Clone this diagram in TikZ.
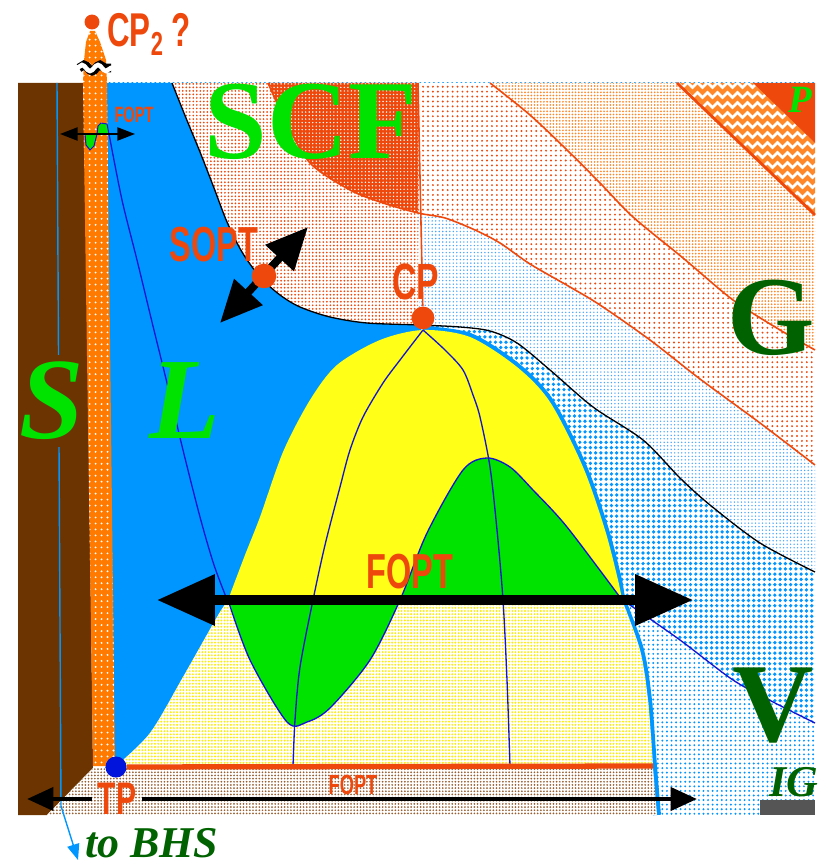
\documentclass[tikz,border=0pt]{standalone}
\usepackage{fontspec}
\setmainfont{Liberation Serif}
\newfontfamily\condfont[FakeStretch=0.66]{Liberation Sans}
\usepackage{tikz}
\usetikzlibrary{arrows.meta,patterns.meta,decorations.pathmorphing}

\definecolor{fopt}{RGB}{238,72,12}
\definecolor{soil}{RGB}{108,52,0}
\definecolor{column}{RGB}{255,122,0}
\definecolor{liquid}{RGB}{0,150,255}
\definecolor{dome}{RGB}{255,255,24}
\definecolor{blob}{RGB}{0,226,0}
\definecolor{deepgreen}{RGB}{0,98,0}
\definecolor{spin}{RGB}{20,20,210}
\definecolor{tpblue}{RGB}{0,20,220}
\definecolor{amber}{RGB}{255,135,40}
\definecolor{mud}{RGB}{150,95,50}
\definecolor{mist}{RGB}{70,165,255}
\definecolor{sun}{RGB}{255,235,0}
\definecolor{bar}{RGB}{85,85,85}

\begin{document}
\begin{tikzpicture}[x=0.02cm,y=-0.02cm,
  vapzone/.style={fill=white, postaction={pattern={Dots[distance=2.6pt,radius=0.62pt]}, pattern color=liquid}},
  bandzone/.style={fill=white, postaction={pattern={Dots[distance=3pt,radius=1.05pt]}, pattern color=liquid}},
  mistzone/.style={fill=white, postaction={pattern={Dots[distance=2pt,radius=0.45pt]}, pattern color=mist}},
  gaszone/.style={fill=white, postaction={pattern={Dots[distance=2.8pt,radius=0.6pt]}, pattern color=fopt}},
  scfzone/.style={fill=white, postaction={pattern={Dots[distance=2pt,radius=0.55pt]}, pattern color=fopt}},
  hotzone/.style={fill=fopt, postaction={pattern={Dots[distance=2pt,radius=0.45pt]}, pattern color=white}},
  ambzone/.style={fill=white, postaction={pattern={Dots[distance=1.8pt,radius=0.55pt]}, pattern color=amber}},
  palezone/.style={fill=white, postaction={pattern={Dots[distance=1.8pt,radius=0.6pt]}, pattern color=sun}},
  floorzone/.style={fill=white, postaction={pattern={Dots[distance=1.8pt,radius=0.55pt]}, pattern color=mud}},
  colzone/.style={fill=column, postaction={pattern={Dots[distance=3.4pt,radius=0.6pt]}, pattern color=white}},
  ripple/.style={amber, line width=2.3pt, decorate, decoration={zigzag, segment length=0.2cm, amplitude=0.05cm}},
  edge/.style={fopt, line width=0.9pt},
  spinline/.style={draw=spin, line width=0.75pt},
  spot/.style={circle, fill=fopt, inner sep=0pt, minimum size=13pt},
  tag/.style={text=fopt, inner sep=0pt, font=\condfont\bfseries\fontsize{#1}{#1}\selectfont},
  phase/.style={text=blob, inner sep=0pt, font=\bfseries\fontsize{#1}{#1}\selectfont},
  phaseit/.style={text=blob, inner sep=0pt, font=\bfseries\itshape\fontsize{#1}{#1}\selectfont},
  bigarrow/.style={line width=5.5pt, arrows={Triangle[length=33pt,width=28pt]-Triangle[length=33pt,width=28pt]}},
  soptarrow/.style={line width=4.5pt, arrows={Triangle[length=24pt,width=21pt]-Triangle[length=24pt,width=21pt]}},
  floorarrow/.style={line width=2.6pt, arrows={-Triangle[length=15pt,width=13pt]}},
  thinarrow/.style={line width=0.9pt, arrows={Triangle[length=10pt,width=7.5pt]-Triangle[length=10pt,width=7.5pt]}}]
\useasboundingbox (0,0) rectangle (817,864);

% background zones
\fill[soil] (18,83) -- (84,83) -- (93,768) -- (47,815) -- (18,815) -- cycle;
\fill[vapzone] (105,83) rectangle (815,815);
\fill[bandzone] (420,325) -- plot[smooth] coordinates {(420,325) (460,327) (490,331) (517,343) (550,370) (593,407) (643,440) (680,478) (710,505) (760,543) (815,572)} -- (815,723) -- plot[smooth] coordinates {(815,723) (775,703) (733,680) (680,640) (627,603)} -- (600,600) -- (520,420) -- (430,335) -- cycle;
\fill[mistzone] (418,213) -- plot[smooth] coordinates {(418,213) (445,218) (475,230) (500,243) (530,264) (570,287) (600,305) (650,340) (700,379) (760,423) (815,465)} -- (815,572) -- plot[smooth] coordinates {(815,572) (760,543) (710,505) (680,478) (643,440) (593,407) (550,370) (517,343) (490,331) (460,327) (420,325)} -- cycle;
\fill[gaszone] (418,83) -- (490,83) -- plot[smooth] coordinates {(490,83) (530,115) (567,150) (600,183) (633,217) (683,258) (733,300) (780,330) (815,350)} -- (815,465) -- plot[smooth] coordinates {(815,465) (760,423) (700,379) (650,340) (600,305) (570,287) (530,264) (500,243) (475,230) (445,218) (418,213)} -- cycle;
\fill[ambzone] (490,83) -- (677,83) -- (815,215) -- (815,350) -- plot[smooth] coordinates {(815,350) (780,330) (733,300) (683,258) (633,217) (600,183) (567,150) (530,115) (490,83)} -- cycle;
\begin{scope}
  \clip (677,83) -- (753,83) -- (815,143) -- (815,215) -- cycle;
  \fill[white] (670,80) rectangle (820,220);
  \foreach \r in {80,90,...,230}
    \draw[ripple] (665,\r) -- (825,\r);
\end{scope}
\fill[fopt] (753,83) -- (815,83) -- (815,143) -- cycle;
\fill[scfzone] (172,83) -- (418,83) -- (418,325) -- plot[smooth] coordinates {(420,325) (367,323) (330,317) (300,307) (280,295) (260,277) (242,252) (227,222) (214,188) (200,152) (186,118) (172,83)} -- cycle;
\fill[hotzone] (268,83) -- (418,83) -- (418,213) -- plot[smooth] coordinates {(418,213) (383,203) (350,190) (310,163) (285,120) (268,83)} -- cycle;
\fill[liquid] (105,83) -- plot[smooth] coordinates {(172,83) (186,118) (200,152) (214,188) (227,222) (242,252) (260,277) (280,295) (300,307) (330,317) (367,323) (420,325)} -- (420,360) -- (330,766) -- (112,766) -- cycle;

% coexistence dome
\draw[liquid, line width=4.5pt] plot[smooth] coordinates {(423,330) (470,337) (517,367) (550,402) (583,467) (605,530) (618,580) (622,600) (640,650) (648,700) (653,766) (657,815)};
\fill[palezone] (228,600) -- plot[smooth] coordinates {(622,600) (640,650) (648,700) (653,766)} -- (116,766) -- plot[smooth] coordinates {(116,766) (150,733) (183,677) (217,617) (228,600)} -- cycle;
\fill[dome] plot[smooth] coordinates {(228,600) (245,555) (260,517) (283,452) (310,400) (337,365) (380,340) (423,330) (470,337) (517,367) (550,402) (583,467) (605,530) (618,580) (622,600)} -- cycle;
\filldraw[spinline, fill=blob] plot[smooth] coordinates {(228,600) (250,660) (287,722) (307,722) (330,708) (370,660) (400,600) (427,533) (463,470) (487,458) (510,467) (533,490) (567,527) (622,600)} -- cycle;

% floor and column
\fill[floorzone] (93,768) -- (653,768) -- (657,815) -- (47,815) -- cycle;
\fill[colzone] (83,83) -- (84,60) -- (86,42) -- (90,31) -- (95,31) -- (100,42) -- (106,60) -- (107,83) -- (115,766) -- (93,766) -- cycle;
\draw[black, line width=5pt, decorate, decoration={snake, segment length=0.32cm, amplitude=0.06cm}] (79,68) -- (111,68);
\draw[white, line width=2.6pt, decorate, decoration={snake, segment length=0.32cm, amplitude=0.06cm}] (77,68) -- (113,68);

% zone borders
\draw[edge] plot[smooth] coordinates {(268,83) (285,120) (310,163) (350,190) (383,203) (418,213) (445,218) (475,230) (500,243) (530,264) (570,287) (600,305) (650,340) (700,379) (760,423) (815,465)};
\draw[edge] plot[smooth] coordinates {(490,83) (530,115) (567,150) (600,183) (633,217) (683,258) (733,300) (780,330) (815,350)};
\draw[edge, line width=1.6pt] (677,83) -- (815,215);
\draw[black, line width=0.75pt] plot[smooth] coordinates {(172,83) (186,118) (200,152) (214,188) (227,222) (242,252) (260,277) (280,295) (300,307) (330,317) (367,323) (420,325) (460,327) (490,331) (517,343) (550,370) (593,407) (643,440) (680,478) (710,505) (760,543) (815,572)};

% spinodals
\coordinate (cpfoot) at (423,330);
\draw[spinline] plot[smooth] coordinates {(109,134) (122,200) (137,260) (152,322) (167,383) (183,450) (200,517) (214,565) (228,602)};
\draw[spinline] (cpfoot) -- plot[smooth] coordinates {(423,330) (400,360) (383,383) (363,417) (350,450) (340,487) (325,545) (313,600) (300,667) (295,720) (293,766)};
\draw[spinline] (cpfoot) -- plot[smooth] coordinates {(423,330) (445,350) (463,370) (473,395) (480,417) (490,467) (497,530) (503,600) (507,680) (510,766)};
\draw[spinline] plot[smooth] coordinates {(627,603) (680,640) (733,680) (775,703) (815,723)};
\filldraw[spinline, fill=blob, line width=0.6pt] (85,134) -- (86,145) -- (90,150) -- (94,146) -- (97,134) -- cycle;
\filldraw[spinline, fill=blob, line width=0.6pt] (97,134) -- (98,126) -- (101,123) -- (107,124) -- (109,134) -- cycle;

% to BHS line
\coordinate (bhsTop) at (57,83);
\coordinate (bhsBend) at (61,806);
\coordinate (bhsEnd) at (78,860);
\draw[liquid, line width=0.8pt, arrows={-Triangle[length=9pt,width=7pt]}] (bhsTop) -- (bhsBend) -- (bhsEnd);

% points
\node[spot] (cpdot) at (423,318) {};
\node[spot, minimum size=8.5pt] (cp2dot) at (92,22) {};
\node[spot, fill=tpblue, minimum size=12pt] (tpdot) at (116,767) {};
\coordinate (floorEnd) at (653,766);
\draw[fopt, line width=3pt] (tpdot) -- (floorEnd);
\draw[edge] (418,83) -- (cpdot);

% arrows
\coordinate (foptL) at (157,600);
\coordinate (foptR) at (693,600);
\draw[bigarrow] (foptL) -- (foptR);
\coordinate (soptL) at (220,323);
\coordinate (soptR) at (308,227);
\draw[soptarrow] (soptL) -- (soptR);
\node[spot, minimum size=14pt] (soptdot) at (264,276) {};
\coordinate (smallL) at (60,134);
\coordinate (smallR) at (135,134);
\draw[thinarrow] (smallL) -- (smallR);
\node[tag=26, inner xsep=3pt] (tp) at (117,799) {TP};
\coordinate (floorL) at (27,799);
\coordinate (floorR) at (697,799);
\draw[floorarrow] (tp.west) -- (floorL);
\draw[floorarrow] (tp.east) -- (floorR);
\fill[bar] (760,800) rectangle (815,815);

% labels
\node[tag=27, anchor=base west] (cp2) at (107,47) {CP\textsubscript{2}\,?};
\node[tag=28] (sopt) at (214,245) {SOPT};
\node[tag=29] (cp) at (416,282) {CP};
\node[tag=28] (fopt) at (410,572) {FOPT};
\node[tag=12.6] (foptS) at (134,115) {FOPT};
\node[tag=15.8] (foptF) at (353,785) {FOPT};
\node[phase=64] (scf) at (311,122) {SCF};
\node[phase=64, text=deepgreen] (gas) at (771,318) {G};
\node[phase=64, text=deepgreen] (vap) at (773,706) {V};
\node[phaseit=66, fill=soil, inner ysep=4pt] (sol) at (52,401) {S};
\node[phaseit=66] (liq) at (185,401) {L};
\node[phaseit=22] (pl) at (800,100) {P};
\node[phaseit=25, text=deepgreen] (ig) at (794,782) {IG};
\node[phaseit=25, text=deepgreen, anchor=base west] (tobhs) at (85,857) {to BHS};
\end{tikzpicture}
\end{document}
